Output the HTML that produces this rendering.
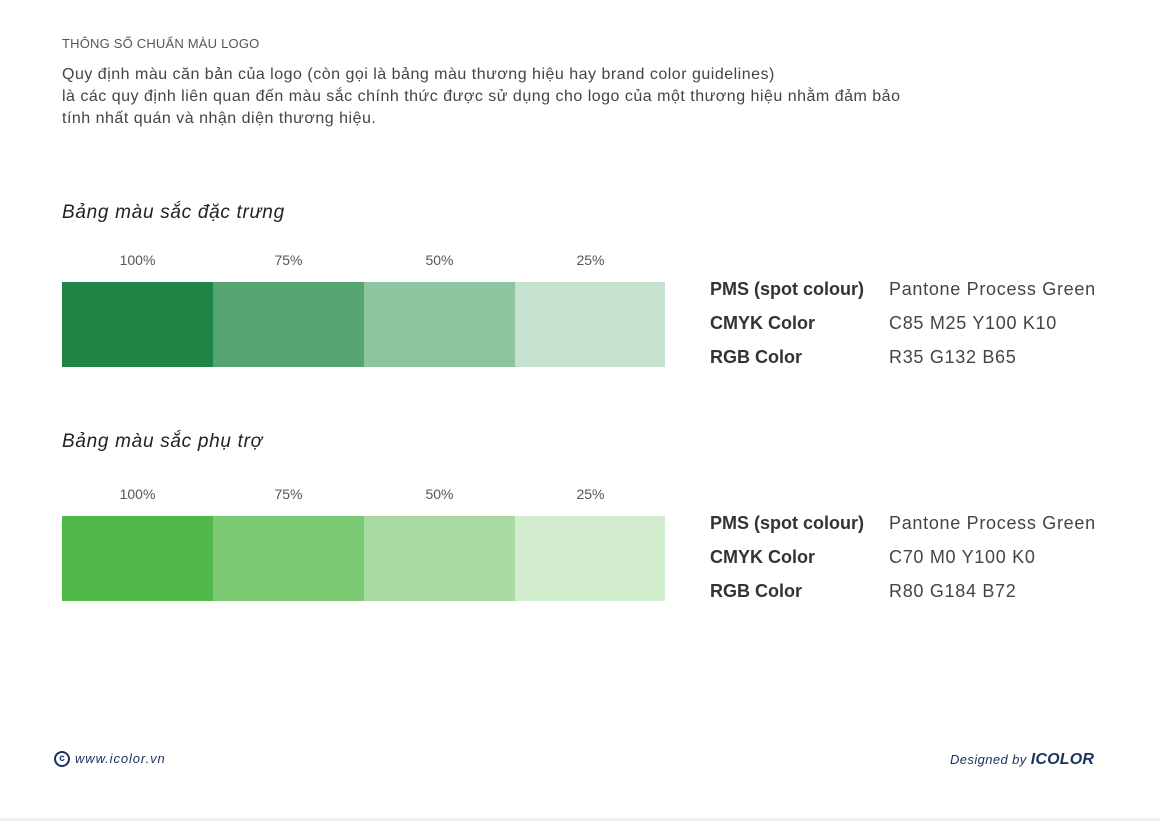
<!DOCTYPE html>
<html><head><meta charset="utf-8"><style>
body{margin:0;width:1160px;height:821px;background:#fff;position:relative;overflow:hidden;font-family:"Liberation Sans","Noto Sans CJK SC",sans-serif;}
.a{position:absolute;white-space:nowrap;}
.sw{position:absolute;height:85px;width:151px;}
.pct{position:absolute;width:151px;text-align:center;font-size:14px;color:#555;}
.k{font-size:18px;font-weight:bold;color:#333;}
.v{font-size:18px;color:#444;letter-spacing:0.7px;}
</style></head><body>
<div class="a" style="left:62px;top:36px;font-size:13px;color:#555;letter-spacing:0.2px">THÔNG SỐ CHUẨN MÀU LOGO</div>
<div class="a" style="left:62px;top:64px;font-size:16px;color:#444;line-height:22px;letter-spacing:0.5px">Quy định màu căn bản của logo (còn gọi là bảng màu thương hiệu hay brand color guidelines)<br>là các quy định liên quan đến màu sắc chính thức được sử dụng cho logo của một thương hiệu nhằm đảm bảo<br>tính nhất quán và nhận diện thương hiệu.</div>

<div class="a" style="left:62px;top:202px;font-size:19px;font-style:italic;color:#222;letter-spacing:0.7px">Bảng màu sắc đặc trưng</div>
<div class="pct" style="left:62px;top:252px">100%</div><div class="pct" style="left:213px;top:252px">75%</div><div class="pct" style="left:364px;top:252px">50%</div><div class="pct" style="left:515px;top:252px">25%</div>
<div class="sw" style="left:62px;top:282px;background:#1e8544"></div>
<div class="sw" style="left:213px;top:282px;background:#55a572"></div>
<div class="sw" style="left:364px;top:282px;background:#8ec4a0"></div>
<div class="sw" style="left:515px;top:282px;width:150px;background:#c5e1cf"></div>
<div class="a k" style="left:710px;top:279px">PMS (spot colour)</div><div class="a v" style="left:889px;top:279px">Pantone Process Green</div>
<div class="a k" style="left:710px;top:313px">CMYK Color</div><div class="a v" style="left:889px;top:313px">C85 M25 Y100 K10</div>
<div class="a k" style="left:710px;top:347px">RGB Color</div><div class="a v" style="left:889px;top:347px">R35 G132 B65</div>

<div class="a" style="left:62px;top:431px;font-size:19px;font-style:italic;color:#222;letter-spacing:0.7px">Bảng màu sắc phụ trợ</div>
<div class="pct" style="left:62px;top:486px">100%</div><div class="pct" style="left:213px;top:486px">75%</div><div class="pct" style="left:364px;top:486px">50%</div><div class="pct" style="left:515px;top:486px">25%</div>
<div class="sw" style="left:62px;top:516px;background:#50b848"></div>
<div class="sw" style="left:213px;top:516px;background:#7cca74"></div>
<div class="sw" style="left:364px;top:516px;background:#a7dba2"></div>
<div class="sw" style="left:515px;top:516px;width:150px;background:#d3edd0"></div>
<div class="a k" style="left:710px;top:513px">PMS (spot colour)</div><div class="a v" style="left:889px;top:513px">Pantone Process Green</div>
<div class="a k" style="left:710px;top:547px">CMYK Color</div><div class="a v" style="left:889px;top:547px">C70 M0 Y100 K0</div>
<div class="a k" style="left:710px;top:581px">RGB Color</div><div class="a v" style="left:889px;top:581px">R80 G184 B72</div>

<div class="a" style="left:54px;top:751px;width:12px;height:12px;border:2px solid #1c3260;border-radius:50%;font-size:10px;line-height:12px;text-align:center;color:#1c3260;font-weight:bold">c</div>
<div class="a" style="left:75px;top:751px;font-size:13px;font-style:italic;color:#1c3260;letter-spacing:0.9px">www.icolor.vn</div>
<div class="a" style="left:950px;top:751px;font-size:13px;font-style:italic;color:#1c3260;letter-spacing:0.4px">Designed by <b style="font-size:16px;letter-spacing:0.2px">ICOLOR</b></div>
<div class="a" style="left:0;top:818px;width:1160px;height:3px;background:#f0f0f0"></div>
</body></html>
